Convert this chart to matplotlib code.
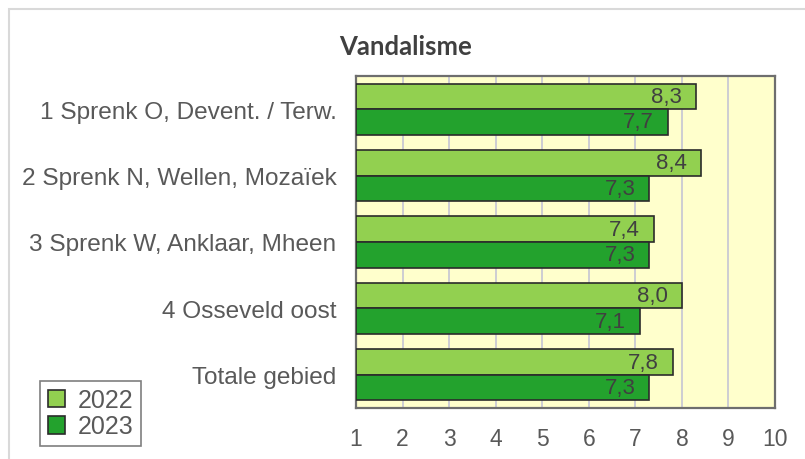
import numpy as np
import matplotlib
matplotlib.use("Agg")
import matplotlib.pyplot as plt
from matplotlib.patches import Patch, Rectangle

# Données
categories = [
    "1 Sprenk O, Devent. / Terw.",
    "2 Sprenk N, Wellen, Mozaïek",
    "3 Sprenk W, Anklaar, Mheen",
    "4 Osseveld oost",
    "Totale gebied",
]
jaren = ["2022", "2023"]
scores_2022 = [8.3, 8.4, 7.4, 8.0, 7.8]
scores_2023 = [7.7, 7.3, 7.3, 7.1, 7.3]
xticks = list(range(1, 11))

kleur_2022 = "#92D050"
kleur_2023 = "#23A22D"
tekst_kleur = "#595959"

plt.rcParams['font.family'] = ['Liberation Sans', 'DejaVu Sans']

fig = plt.figure(figsize=(8.05, 4.60), dpi=100)
ax = fig.add_axes([356 / 805, 1 - 409 / 460, (775 - 356) / 805, (409 - 77) / 460])
ax.set_facecolor("#FFFFCC")

y = np.arange(len(categories))
h = 0.385

# Balken
b1 = ax.barh(y - h / 2, np.array(scores_2022) - 1, left=1, height=h,
             color=kleur_2022, edgecolor="#2b2b2b", linewidth=1.2, zorder=3)
b2 = ax.barh(y + h / 2, np.array(scores_2023) - 1, left=1, height=h,
             color=kleur_2023, edgecolor="#2b2b2b", linewidth=1.2, zorder=3)

# Waardelabels binnen de balk
for bars, vals in [(b1, scores_2022), (b2, scores_2023)]:
    for rect, v in zip(bars, vals):
        ax.annotate(f"{v:.1f}".replace(".", ","),
                    xy=(v, rect.get_y() + rect.get_height() / 2),
                    xytext=(-10, 0), textcoords="offset points",
                    ha="right", va="center", fontsize=16, color="#404040", zorder=4)

ax.set_xlim(1, 10)
ax.set_ylim(len(categories) - 0.5, -0.5)
ax.set_xticks(xticks)
ax.set_xticklabels([str(t) for t in xticks])
ax.set_yticks(y)
ax.set_yticklabels(categories)
ax.tick_params(axis="x", length=0, pad=14, labelsize=16.5, labelcolor=tekst_kleur)
ax.tick_params(axis="y", length=0, pad=14, labelsize=17.6, labelcolor=tekst_kleur)
ax.xaxis.grid(True, color="#C9C9D3", linewidth=1.3, zorder=0)
ax.set_axisbelow(True)
for s in ax.spines.values():
    s.set_color("#6E6E6E")
    s.set_linewidth(1.6)

# Titel
fig.text(406 / 805, 1 - 47 / 460, "Vandalisme", ha="center", va="center",
         fontsize=18.5, fontweight="bold", color="#404040", family=["Lato", "DejaVu Sans"])

# Legenda
handles = [Patch(facecolor=kleur_2022, edgecolor="#2b2b2b", linewidth=1.2),
           Patch(facecolor=kleur_2023, edgecolor="#2b2b2b", linewidth=1.2)]
leg = fig.legend(handles, jaren, loc="lower left",
                 bbox_to_anchor=(40 / 805, 1 - 447 / 460), borderaxespad=0,
                 fontsize=18, handlelength=0.7, handleheight=0.7, handletextpad=0.5,
                 labelspacing=0.1, borderpad=0.3, fancybox=False, framealpha=1)
leg.get_frame().set_edgecolor("#7F7F7F")
leg.get_frame().set_linewidth(1.2)
for t in leg.get_texts():
    t.set_color(tekst_kleur)

# Rand van de grafiek
fig.patches.append(Rectangle((9 / 805, -0.1), 1.2, 1.1 - 10 / 460,
                             transform=fig.transFigure, fill=False,
                             edgecolor="#D9D9D9", linewidth=1.5))

fig.savefig("out.png", dpi=100)
